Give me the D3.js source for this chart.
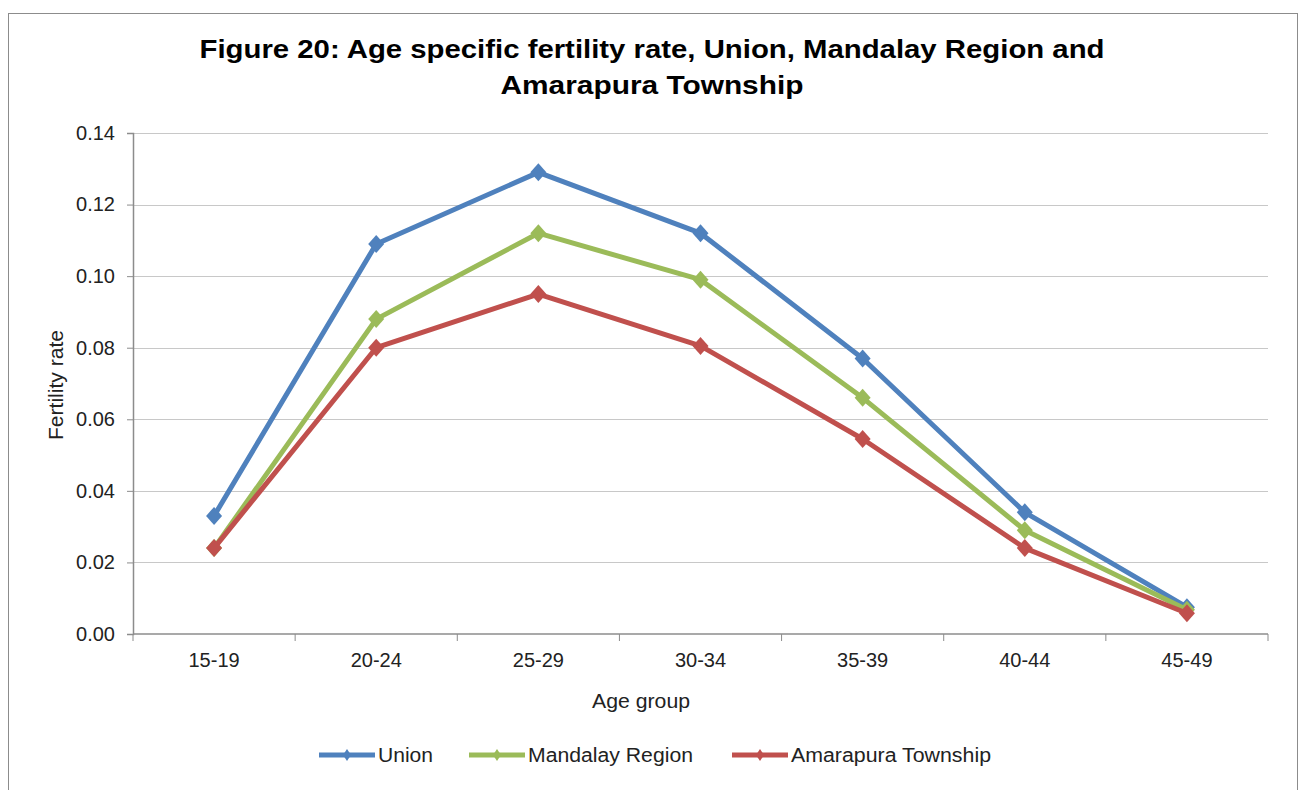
<!DOCTYPE html>
<html>
<head>
<meta charset="utf-8">
<script src="https://cdn.jsdelivr.net/npm/d3@7"></script>
<style>
  body { margin: 0; background: #fff; }
  text { font-family: "Liberation Sans", Arial, sans-serif; }
</style>
</head>
<body>
<script>
// data
var ageGroups = ["15-19", "20-24", "25-29", "30-34", "35-39", "40-44", "45-49"];
var seriesNames = ["Union", "Mandalay Region", "Amarapura Township"];
var unionRates = [0.033, 0.109, 0.129, 0.112, 0.077, 0.034, 0.0075];
var mandalayRates = [0.024, 0.088, 0.112, 0.099, 0.066, 0.029, 0.0068];
var amarapuraRates = [0.024, 0.080, 0.095, 0.0805, 0.0545, 0.024, 0.0058];
var yTicks = [0, 0.02, 0.04, 0.06, 0.08, 0.10, 0.12, 0.14];
var colors = ["#4F81BD", "#9BBB59", "#C0504D"];

var width = 1301, height = 790;
var margin = {top: 133, right: 33, bottom: 156, left: 133};

var svg = d3.select("body")
  .append("svg")
  .attr("width", width)
  .attr("height", height);

// chart border
svg.append("rect")
  .attr("x", 8.5).attr("y", 13.5)
  .attr("width", 1289).attr("height", 800)
  .attr("fill", "none")
  .attr("stroke", "#8c8c8c")
  .attr("stroke-width", 1);

var xScale = d3.scaleBand()
  .domain(ageGroups)
  .range([margin.left, width - margin.right]);

var yScale = d3.scaleLinear()
  .domain([0, 0.14])
  .range([height - margin.bottom, margin.top]);

// gridlines
svg.append("g")
  .selectAll("line")
  .data(yTicks.slice(1))
  .enter()
  .append("line")
  .attr("x1", margin.left)
  .attr("x2", width - margin.right)
  .attr("y1", function(d) { return Math.round(yScale(d)) + 0.5; })
  .attr("y2", function(d) { return Math.round(yScale(d)) + 0.5; })
  .attr("stroke", "#c8c8c8")
  .attr("stroke-width", 1.2);

// y axis
var yAxis = d3.axisLeft(yScale)
  .tickValues(yTicks)
  .tickFormat(d3.format(".2f"))
  .tickSize(6)
  .tickPadding(12);

var gy = svg.append("g")
  .attr("transform", "translate(" + margin.left + ",0)")
  .call(yAxis);

// x axis with ticks at the category edges
var xAxis = d3.axisBottom(xScale)
  .tickSize(0)
  .tickPadding(19);

var gx = svg.append("g")
  .attr("transform", "translate(0," + (height - margin.bottom) + ")")
  .call(xAxis);

gx.selectAll(".edge")
  .data(ageGroups.concat(["end"]))
  .enter()
  .append("line")
  .attr("class", "edge")
  .attr("x1", function(d, i) { return i < ageGroups.length ? xScale(d) : width - margin.right; })
  .attr("x2", function(d, i) { return i < ageGroups.length ? xScale(d) : width - margin.right; })
  .attr("y1", 0)
  .attr("y2", 7)
  .attr("stroke", "#8c8c8c");

[gx, gy].forEach(function(g) {
  g.selectAll("path.domain").attr("stroke", "#8c8c8c").attr("stroke-width", 1.5);
  g.selectAll(".tick line").attr("stroke", "#8c8c8c");
  g.selectAll(".tick text")
    .attr("fill", "#222")
    .style("font-size", "20px")
    .style("font-family", "'Liberation Sans', Arial, sans-serif");
});
gx.select("path.domain").attr("d", "M" + margin.left + ",0H" + (width - margin.right));

// titles
svg.append("text")
  .attr("x", 652).attr("y", 58)
  .attr("text-anchor", "middle")
  .style("font-size", "25px")
  .style("font-weight", "bold")
  .attr("textLength", 905)
  .attr("lengthAdjust", "spacingAndGlyphs")
  .text("Figure 20: Age specific fertility rate, Union, Mandalay Region and");

svg.append("text")
  .attr("x", 652).attr("y", 94)
  .attr("text-anchor", "middle")
  .style("font-size", "25px")
  .style("font-weight", "bold")
  .attr("textLength", 303)
  .attr("lengthAdjust", "spacingAndGlyphs")
  .text("Amarapura  Township");

svg.append("text")
  .attr("transform", "translate(63," + 385 + ")rotate(-90)")
  .attr("text-anchor", "middle")
  .style("font-size", "20px")
  .attr("fill", "#222")
  .attr("textLength", 110)
  .attr("lengthAdjust", "spacingAndGlyphs")
  .text("Fertility rate");

svg.append("text")
  .attr("x", 641).attr("y", 708)
  .attr("text-anchor", "middle")
  .style("font-size", "20px")
  .attr("fill", "#222")
  .attr("textLength", 98)
  .attr("lengthAdjust", "spacingAndGlyphs")
  .text("Age group");

// lines and markers
var allSeries = [unionRates, mandalayRates, amarapuraRates];
var line = d3.line()
  .x(function(d, i) { return xScale(ageGroups[i]) + xScale.bandwidth() / 2; })
  .y(function(d) { return yScale(d); });

function diamondPath(w, h) {
  return "M0," + (-h) + "L" + w + ",0L0," + h + "L" + (-w) + ",0Z";
}

allSeries.forEach(function(values, s) {
  svg.append("path")
    .datum(values)
    .attr("d", line)
    .attr("fill", "none")
    .attr("stroke", colors[s])
    .attr("stroke-width", 5)
    .attr("stroke-linejoin", "round");

  svg.append("g")
    .selectAll("path")
    .data(values)
    .enter()
    .append("path")
    .attr("d", diamondPath(8, 9))
    .attr("transform", function(d, i) {
      return "translate(" + (xScale(ageGroups[i]) + xScale.bandwidth() / 2) + "," + yScale(d) + ")";
    })
    .attr("fill", colors[s]);
});

// legend
var legendX = [319, 469, 732];
var legendW = [55, 165, 200];
var legend = svg.append("g").attr("class", "legend");

seriesNames.forEach(function(name, i) {
  legend.append("line")
    .attr("x1", legendX[i]).attr("x2", legendX[i] + 56)
    .attr("y1", 755).attr("y2", 755)
    .attr("stroke", colors[i])
    .attr("stroke-width", 5);
  legend.append("path")
    .attr("d", diamondPath(4, 6))
    .attr("transform", "translate(" + (legendX[i] + 28) + ",755)")
    .attr("fill", colors[i]);
  legend.append("text")
    .attr("x", legendX[i] + 59).attr("y", 762)
    .style("font-size", "20px")
    .attr("fill", "#222")
    .attr("textLength", legendW[i])
    .attr("lengthAdjust", "spacingAndGlyphs")
    .text(name);
});
</script>
</body>
</html>
